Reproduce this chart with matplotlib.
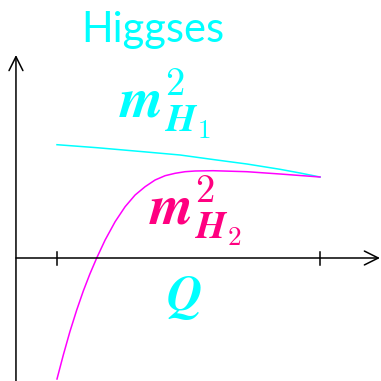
import matplotlib.pyplot as plt
import numpy as np

plt.rcParams['mathtext.fontset'] = 'cm'

# running scale Q (0 = low scale, 1 = high scale)
q_h1 = [0.0, 0.152, 0.327, 0.468, 0.593, 0.722, 0.848, 0.924, 1.0]
m2_h1 = [1.133, 1.103, 1.063, 1.03, 0.985, 0.94, 0.887, 0.85, 0.81]

q_h2 = [0.0, 0.024, 0.049, 0.075, 0.100, 0.125, 0.151, 0.183, 0.221, 0.259,
        0.297, 0.335, 0.373, 0.411, 0.449, 0.487, 0.525, 0.593, 0.722, 0.848, 1.0]
m2_h2 = [-1.21, -0.97, -0.737, -0.52, -0.33, -0.16, 0.0, 0.18, 0.363, 0.513,
         0.63, 0.713, 0.78, 0.823, 0.847, 0.863, 0.87, 0.873, 0.863, 0.84, 0.81]

tick_q = [0.0, 1.0]

CYAN = '#00ffff'
MAGENTA = '#ff00ff'
RUBINE = '#ff0080'

fig = plt.figure(figsize=(3.81, 3.81), dpi=100)
ax = fig.add_axes([0, 0, 1, 1])
ax.set_xlim(-0.2167, 1.2319)
ax.set_ylim(-1.23, 2.58)
ax.axis('off')

# axes with open arrow heads
arrow = dict(arrowstyle='->,head_length=1.0,head_width=0.5', color='black', lw=1.1,
             shrinkA=0, shrinkB=0)
ax.annotate('', xy=(-0.156, 2.03), xytext=(-0.156, -1.23), arrowprops=arrow)
ax.annotate('', xy=(1.228, 0.0), xytext=(-0.156, 0.0), arrowprops=arrow)
for t in tick_q:
    ax.plot([t, t], [-0.065, 0.065], color='black', lw=1.1)

ax.plot(q_h1, m2_h1, color=CYAN, lw=1.1)
ax.plot(q_h2, m2_h2, color=MAGENTA, lw=1.1)

ax.text(0.092, 2.16, 'Higgses', color=CYAN, fontsize=30, ha='left', va='baseline',
        family='Lato')
ax.text(0.235, 1.40,
        r'$\boldsymbol{m}^{\mathbf{2}}_{\boldsymbol{H}_{\mathbf{1}}}$',
        color=CYAN, fontsize=40, ha='left', va='baseline')
ax.text(0.35, 0.33,
        r'$\boldsymbol{m}^{\mathbf{2}}_{\boldsymbol{H}_{\mathbf{2}}}$',
        color=RUBINE, fontsize=40, ha='left', va='baseline')
ax.text(0.414, -0.52, r'$\boldsymbol{Q}$', color=CYAN, fontsize=35,
        ha='left', va='baseline')

fig.savefig('out.png', dpi=100)
